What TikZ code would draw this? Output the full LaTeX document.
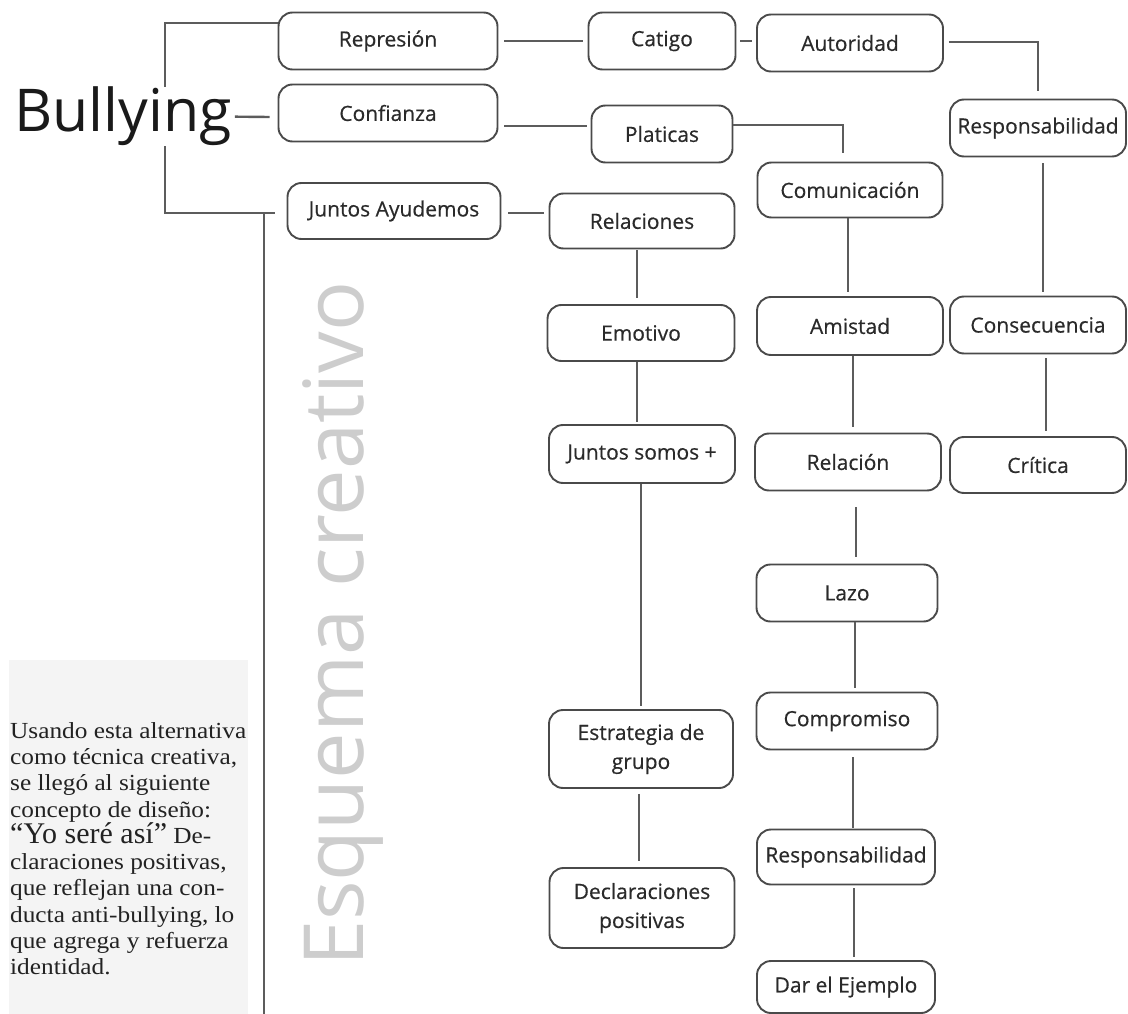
\documentclass[tikz,border=0pt]{standalone}
\usepackage{fontspec}
\newfontfamily\boxfont{Open Sans}
\newfontfamily\boxfontb[FakeBold=0.5]{Open Sans}
\newfontfamily\bodyfont[FakeStretch=1.1]{Liberation Serif}
\newfontfamily\bigfont{Liberation Serif}
\newcommand\ptfont{\bodyfont\fontsize{23}{26.3}\selectfont\lineskiplimit=-100pt\relax}
\newcommand\bigyo{\bigfont\fontsize{30}{26.3}\selectfont}
\definecolor{boxc}{HTML}{4A4A4A}
\definecolor{textc}{HTML}{2A2A2A}
\definecolor{linec}{HTML}{5C5C5C}
\definecolor{esqc}{HTML}{CDCDCD}
\definecolor{panelc}{HTML}{F4F4F4}
\definecolor{bulc}{HTML}{1A1A1A}
\definecolor{ptextc}{HTML}{222222}
\begin{document}
\begin{tikzpicture}[x=1pt,y=-1pt,
  bx/.style={draw=boxc, line width=1.9pt, rounded corners=14pt, minimum width=#1,
    minimum height=57pt, inner sep=0pt, text=textc, align=center,
    font=\boxfontb\fontsize{21}{29}\selectfont},
  ln/.style={draw=linec, line width=2.4pt}]
\useasboundingbox (0,0) rectangle (1128,1014);
% side panel
\fill[panelc] (9,660) rectangle (248,1014);
\node[anchor=north west, align=left, inner sep=0pt, text=ptextc,
  font=\ptfont] (ptxt) at (10,722)
  {Usando esta alternativa\\como técnica creativa,\\se llegó al siguiente\\concepto de diseño:\\{\bigyo “Yo seré así”} De-\\claraciones positivas,\\que reflejan una con-\\ducta anti-bullying, lo\\que agrega y refuerza\\identidad.};
% vertical title
\node[rotate=90, anchor=base west, inner sep=0pt, text=esqc,
  font=\boxfont\fontsize{83}{83}\selectfont] (esq) at (363,967) {Esquema creativo};
% boxes
\node[bx=219pt] (rep) at (388,41) {Represión};
\node[bx=219pt] (con) at (388,113) {Confianza};
\node[bx=213pt, minimum height=56pt] (jun) at (394,211) {Juntos Ayudemos};
\node[bx=147pt] (cat) at (662,41) {Catigo};
\node[bx=186pt] (aut) at (850,43) {Autoridad};
\node[bx=141pt] (pla) at (662,134) {Platicas};
\node[bx=185pt, minimum height=55pt] (com) at (850,190) {Comunicación};
\node[bx=176pt] (resA) at (1038,128) {Responsabilidad};
\node[bx=185pt, minimum height=55pt] (rel) at (642,221) {Relaciones};
\node[bx=187pt, minimum height=56pt] (emo) at (641,333) {Emotivo};
\node[bx=186pt, minimum height=58pt] (ami) at (850,326) {Amistad};
\node[bx=176pt] (cons) at (1038,325) {Consecuencia};
\node[bx=186pt, minimum height=58pt] (jsm) at (642,454) {Juntos somos +};
\node[bx=186pt] (relc) at (848,462) {Relación};
\node[bx=176pt, minimum height=56pt] (cri) at (1038,465) {Crítica};
\node[bx=181pt] (lazo) at (847,593) {Lazo};
\node[bx=181pt] (comp) at (847,721) {Compromiso};
\node[bx=184pt, minimum height=78pt] (est) at (641,749) {Estrategia de\\grupo};
\node[bx=178pt, minimum height=55pt] (resB) at (846,857) {Responsabilidad};
\node[bx=185pt, minimum height=80pt] (decl) at (642,908) {Declaraciones\\positivas};
\node[bx=178pt, minimum height=52pt] (dar) at (846,987) {Dar el Ejemplo};
% bracket and long vertical line
\coordinate (bb) at (165,213);
\coordinate (vt) at (264,213);
\coordinate (vb) at (264,1016);
\draw[ln] ([yshift=18pt]rep.west) -| (bb) -- ([shift={(-12,2)}]jun.west);
\draw[ln] (vt) -- (vb);
\node[anchor=base west, inner sep=0pt, fill=white, text=bulc,
  font=\boxfont\fontsize{59}{59}\selectfont] (bul) at (14,132) {Bullying};
% connectors
\draw[ln] ([xshift=3pt]bul.east) -- ([shift={(-8,4)}]con.west);
\draw[ln] ([xshift=6pt]rep.east) -- ([xshift=-5pt]cat.west);
\draw[ln] ([shift={(6,13)}]con.east) -- ([shift={(-4,-8)}]pla.west);
\draw[ln] ([shift={(7,2)}]jun.east) -- ([shift={(-5,-8)}]rel.west);
\draw[ln] ([xshift=4pt]cat.east) -- ([shift={(-4,-2)}]aut.west);
\draw[ln] ([shift={(5,-1)}]aut.east) -| ([yshift=8pt]resA.north);
\draw[ln] ([shift={(0,-9)}]pla.east) -| ([shift={(-7,-9)}]com.north);
\draw[ln] ([shift={(-2,0)}]com.south) -- ([shift={(-2,-4)}]ami.north);
\draw[ln] ([shift={(3,0)}]ami.south) -- ([shift={(5,-6)}]relc.north);
\draw[ln] ([shift={(8,16)}]relc.south) -- ([shift={(9,-7)}]lazo.north);
\draw[ln] ([shift={(8,0)}]lazo.south) -- ([shift={(8,-4)}]comp.north);
\draw[ln] ([shift={(6,7)}]comp.south) -- ([shift={(7,-1)}]resB.north);
\draw[ln] ([shift={(8,3)}]resB.south) -- ([shift={(8,-3)}]dar.north);
\draw[ln] ([shift={(5,6)}]resA.south) -- ([shift={(5,-4)}]cons.north);
\draw[ln] ([shift={(8,4)}]cons.south) -- ([shift={(8,-5)}]cri.north);
\draw[ln] ([shift={(-5,1)}]rel.south) -- ([shift={(-4,-6)}]emo.north);
\draw[ln] ([shift={(-4,0)}]emo.south) -- ([shift={(-5,-2)}]jsm.north);
\draw[ln] ([shift={(-1,0)}]jsm.south) -- ([shift={(0,-3)}]est.north);
\draw[ln] ([shift={(-2,5)}]est.south) -- ([shift={(-3,-6)}]decl.north);
\end{tikzpicture}
\end{document}
